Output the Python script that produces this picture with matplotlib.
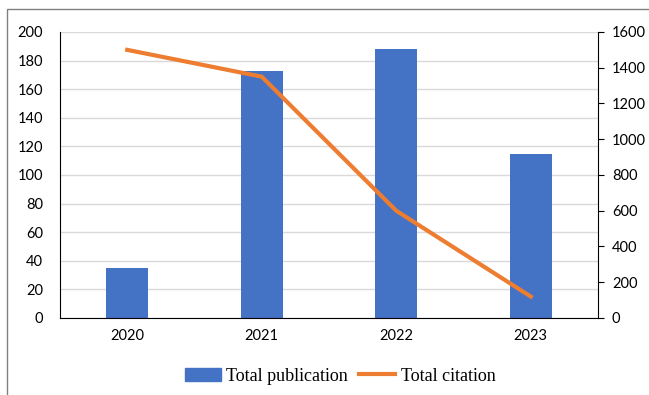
import matplotlib.pyplot as plt
import numpy as np
from matplotlib.patches import Rectangle
from matplotlib.lines import Line2D
from matplotlib.patches import Patch

years = ['2020', '2021', '2022', '2023']
publications = [35, 173, 188, 115]
citations = [1500, 1350, 600, 120]

blue = '#4472C4'
orange = '#ED7D31'

plt.rcParams['font.family'] = ['Lato', 'DejaVu Sans']

fig = plt.figure(figsize=(6.49, 3.95), dpi=100)
ax = fig.add_axes([0.0924, 0.195, 0.829, 0.724])
x = np.arange(len(years))

ax.bar(x, publications, width=0.31, color=blue, zorder=2)
ax.set_ylim(0, 200)
ax.set_yticks(range(0, 201, 20))
ax.set_xlim(-0.5, 3.5)
ax.set_xticks(x)
ax.set_xticklabels(years)
ax.grid(axis='y', color='#d9d9d9', linewidth=1, zorder=0)
ax.tick_params(axis='both', length=0, labelsize=10.5, pad=8)
ax.tick_params(axis='y', pad=12)
ax.spines['top'].set_visible(False)
ax.spines['right'].set_visible(False)

ax2 = ax.twinx()
ax2.plot(x, citations, color=orange, linewidth=3, zorder=3)
ax2.set_ylim(0, 1600)
ax2.set_yticks(range(0, 1601, 200))
ax2.tick_params(axis='y', length=4, labelsize=10.5, pad=6, direction='out')
ax2.spines['top'].set_visible(False)
ax2.spines['left'].set_visible(False)
ax2.spines['bottom'].set_visible(False)

handles = [Patch(color=blue), Line2D([], [], color=orange, linewidth=3)]
fig.legend(handles, ['Total publication', 'Total citation'], loc='center',
           bbox_to_anchor=(0.524, 0.048), ncol=2, frameon=False,
           prop={'family': 'Liberation Serif', 'size': 13},
           handlelength=2.0, handletextpad=0.3, columnspacing=0.6)

# outer frame
fig.patches.append(Rectangle((0.011, -0.1), 1.2, 1.077, transform=fig.transFigure,
                             fill=False, edgecolor='#808080', linewidth=1))

fig.savefig('out.png', dpi=100)
